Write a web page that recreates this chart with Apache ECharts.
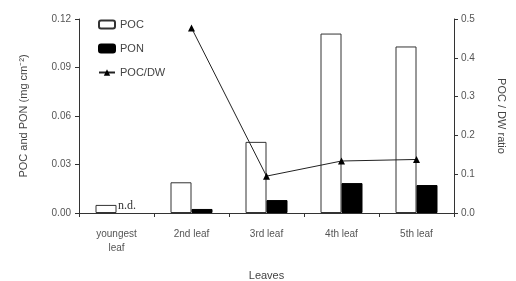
<!DOCTYPE html>
<html><head><meta charset="utf-8">
<script src="https://cdn.jsdelivr.net/npm/echarts@6/dist/echarts.min.js"></script>
<style>html,body{margin:0;padding:0;background:#fff}#c{width:516px;height:281px}</style>
</head><body><div id="c"></div>
<script>
var categories = ['youngest\nleaf', '2nd leaf', '3rd leaf', '4th leaf', '5th leaf'];
var pocValues = [0.005, 0.019, 0.044, 0.111, 0.103];
var ponValues = [0, 0.0025, 0.008, 0.0185, 0.0173];
var ratioValues = [null, 0.477, 0.095, 0.134, 0.138];
var leftTicks = ['0.00', '0.03', '0.06', '0.09', '0.12'];
var rightTicks = ['0.0', '0.1', '0.2', '0.3', '0.4', '0.5'];

var axisCol = '#333';
var font = 'Liberation Sans, Arial, sans-serif';
var chart = echarts.init(document.getElementById('c'));
chart.setOption({
  animation: false,
  textStyle: {fontFamily: font},
  grid: {left: 79, right: 62, top: 19, bottom: 68, containLabel: false, outerBoundsMode: 'none'},
  legend: {
    orient: 'vertical', left: 93, top: 14, itemGap: 13, itemWidth: 16, itemHeight: 8,
    textStyle: {fontSize: 11, color: '#444', fontFamily: font},
    data: ['POC', 'PON', 'POC/DW']
  },
  xAxis: {
    type: 'category', data: categories,
    name: 'Leaves', nameLocation: 'middle', nameGap: 57,
    nameTextStyle: {fontSize: 11, color: '#444'},
    axisLine: {lineStyle: {color: axisCol, width: 1}},
    axisTick: {show: true, length: 4, lineStyle: {color: axisCol}},
    axisLabel: {fontSize: 10, color: '#555', margin: 14, lineHeight: 14}
  },
  yAxis: [{
    type: 'value', min: 0, max: 0.12, interval: 0.03,
    name: 'POC and PON (mg cm\u207B\u00B2)', nameLocation: 'middle', nameGap: 50,
    nameTextStyle: {fontSize: 11, color: '#444'},
    axisLine: {show: true, lineStyle: {color: axisCol}},
    axisTick: {show: true, length: 4, lineStyle: {color: axisCol}},
    splitLine: {show: false},
    axisLabel: {fontSize: 10, color: '#555', margin: 8,
      formatter: function (v) { return leftTicks[Math.round(v / 0.03)]; }}
  }, {
    type: 'value', min: 0, max: 0.5, interval: 0.1, position: 'right',
    name: 'POC / DW ratio', nameLocation: 'middle', nameGap: 42, nameRotate: -90,
    nameTextStyle: {fontSize: 11, color: '#444'},
    axisLine: {show: true, lineStyle: {color: axisCol}},
    axisTick: {show: true, length: 4, lineStyle: {color: axisCol}},
    splitLine: {show: false},
    axisLabel: {fontSize: 10, color: '#555', margin: 7,
      formatter: function (v) { return rightTicks[Math.round(v / 0.1)]; }}
  }],
  series: [{
    name: 'POC', type: 'bar', data: pocValues, barWidth: 21, barGap: '0%',
    itemStyle: {color: '#fff', borderColor: '#333', borderWidth: 1}
  }, {
    name: 'PON', type: 'bar', barWidth: 21,
    data: ponValues.map(function (v, i) {
      if (i === 0) return {value: v, itemStyle: {borderWidth: 0, color: 'rgba(0,0,0,0)'},
        label: {show: true, position: 'top', formatter: 'n.d.',
        fontFamily: 'Liberation Serif, DejaVu Serif, serif', fontSize: 12, color: '#333', distance: 1}};
      return v;
    }),
    itemStyle: {color: '#000', borderColor: '#000', borderWidth: 1}
  }, {
    name: 'POC/DW', type: 'line', yAxisIndex: 1, data: ratioValues,
    symbol: 'triangle', symbolSize: 7, connectNulls: false,
    lineStyle: {color: '#222', width: 1},
    itemStyle: {color: '#000'}
  }]
});
</script></body></html>
